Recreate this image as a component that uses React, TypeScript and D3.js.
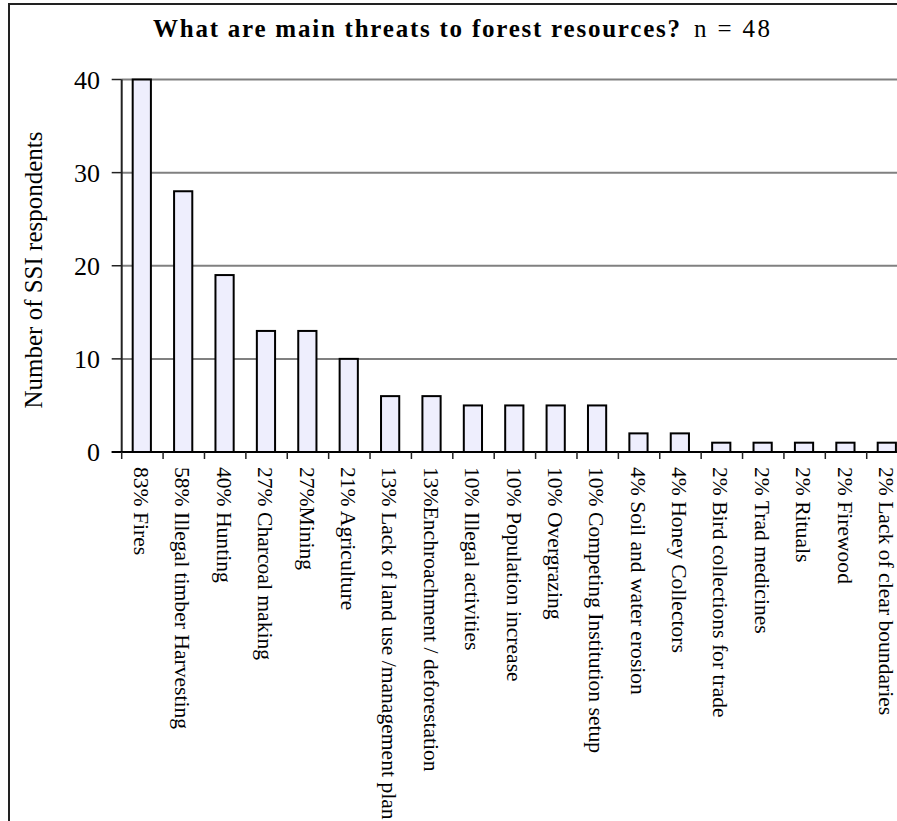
import React from "react";
import * as d3 from "d3";

const categories: string[] = [
  "83% Fires",
  "58% Illegal timber Harvesting",
  "40% Hunting",
  "27% Charcoal making",
  "27%Mining",
  "21% Agriculture",
  "13% Lack of land use /management plan",
  "13%Enchroachment / deforestation",
  "10% Illegal activities",
  "10% Population increase",
  "10% Overgrazing",
  "10% Competing Institution setup",
  "4% Soil and water erosion",
  "4% Honey Collectors",
  "2% Bird collections for trade",
  "2% Trad medicines",
  "2% Rituals",
  "2% Firewood",
  "2% Lack of clear boundaries",
];
const counts: number[] = [40, 28, 19, 13, 13, 10, 6, 6, 5, 5, 5, 5, 2, 2, 1, 1, 1, 1, 1];
const yTicks: number[] = [0, 10, 20, 30, 40];
const titleMain = "What are main threats to forest resources?";
const titleN = "n = 48";
const yLabel = "Number of SSI respondents";

const W = 897;
const H = 821;
const FONT = "'Liberation Serif', 'Times New Roman', serif";

export default function App() {
  const x0 = 121.7;
  const x1 = 908.1;
  const yTop = 79.5;
  const yBottom = 452;
  const x = d3.scaleBand<string>().domain(categories).range([x0, x1]).padding(0);
  const y = d3.scaleLinear().domain([0, 40]).range([yBottom, yTop]);
  const bw = x.bandwidth() * 0.44;

  return (
    <svg
      width={W}
      height={H}
      style={{ position: "absolute", left: 0, top: 0, background: "#fff" }}
      fontFamily={FONT}
    >
      <rect x={0} y={0} width={W} height={H} fill="#fff" />
      {/* outer frame */}
      <rect x={9} y={4} width={W + 20} height={H + 20} fill="none" stroke="#222" strokeWidth={2} />

      {/* title */}
      <text x={153} y={37} fontSize={25} fontWeight="bold" fill="#000" textLength={527} lengthAdjust="spacing">
        {titleMain}
      </text>
      <text x={694} y={37} fontSize={25} fill="#000" textLength={76} lengthAdjust="spacing">
        {titleN}
      </text>

      {/* gridlines */}
      {yTicks
        .filter((t) => t > 0)
        .map((t) => (
          <line key={"g" + t} x1={x0} x2={x1} y1={y(t)} y2={y(t)} stroke="#808080" strokeWidth={2} />
        ))}

      {/* y axis */}
      <line x1={x0} x2={x0} y1={yTop} y2={yBottom} stroke="#222" strokeWidth={2} />
      {yTicks.map((t) => (
        <g key={"yt" + t}>
          <line x1={x0 - 10} x2={x0} y1={y(t)} y2={y(t)} stroke="#222" strokeWidth={1.5} />
          <text x={100} y={y(t)} dy="0.35em" textAnchor="end" fontSize={26} fill="#000">
            {t}
          </text>
        </g>
      ))}
      <text
        transform={`translate(42, 270) rotate(-90)`}
        textAnchor="middle"
        fontSize={25}
        fill="#000"
      >
        {yLabel}
      </text>

      {/* bars */}
      {categories.map((c, i) => {
        const cx = (x(c) as number) + x.bandwidth() / 2 - 0.6;
        return (
          <rect
            key={"b" + i}
            x={cx - bw / 2}
            y={y(counts[i])}
            width={bw}
            height={yBottom - y(counts[i])}
            fill="#EEEEFD"
            stroke="#000"
            strokeWidth={2}
          />
        );
      })}

      {/* x axis */}
      <line x1={x0 - 10} x2={x1} y1={yBottom} y2={yBottom} stroke="#000" strokeWidth={2} />
      {categories.map((c, i) => (
        <line
          key={"xt" + i}
          x1={x(c) as number}
          x2={x(c) as number}
          y1={yBottom}
          y2={yBottom + 7}
          stroke="#222"
          strokeWidth={1.5}
        />
      ))}
      {categories.map((c, i) => {
        const cx = (x(c) as number) + x.bandwidth() / 2 - 0.8;
        return (
          <text
            key={"xl" + i}
            transform={`translate(${cx}, 467) rotate(90)`}
            dy="0.35em"
            textAnchor="start"
            fontSize={21.6}
            fill="#000"
          >
            {c}
          </text>
        );
      })}
    </svg>
  );
}
